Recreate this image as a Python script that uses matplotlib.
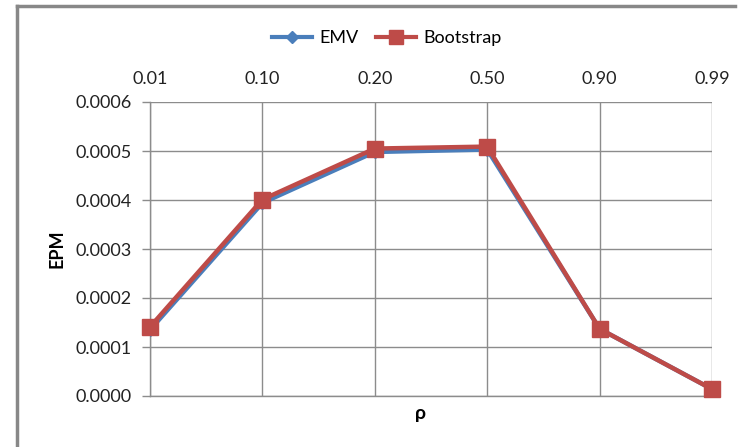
import numpy as np
import matplotlib.pyplot as plt
from matplotlib.lines import Line2D

plt.rcParams['font.family'] = ['Lato', 'DejaVu Sans']

rho_labels = ['0.01', '0.10', '0.20', '0.50', '0.90', '0.99']
emv = [0.000135, 0.000394, 0.000498, 0.000503, 0.000137, 0.000014]
bootstrap = [0.000141, 0.000401, 0.000505, 0.000509, 0.000137, 0.000014]

blue = '#4A7EBB'
red = '#BE4B48'
grid = '#8C8C8C'
fs = 13

fig = plt.figure(figsize=(7.4, 4.47), dpi=100)
ax = fig.add_axes([150/740, 1 - 396/447, 562/740, 294/447])

x = np.arange(len(rho_labels))
ax.plot(x, emv, color=blue, lw=3.2, marker='D', ms=6, mfc=blue, mec=blue,
        label='EMV', zorder=3)
ax.plot(x, bootstrap, color=red, lw=3.2, marker='s', ms=11, mfc=red, mec=red,
        label='Bootstrap', zorder=4, clip_on=False)

ax.set_xlim(0, len(rho_labels) - 1)
ax.set_ylim(0, 0.0006)
ax.set_yticks(np.arange(0, 0.00061, 0.0001))
ax.set_yticklabels([f'{v:.4f}' for v in np.arange(0, 0.00061, 0.0001)])
ax.set_xticks(x)
ax.set_xticklabels(rho_labels)
ax.xaxis.tick_top()
ax.tick_params(axis='x', length=0, pad=11, labelsize=fs, colors='#222222')
ax.tick_params(axis='y', length=6, width=1, color=grid, pad=7,
               labelsize=fs, labelcolor='#222222')
ax.grid(True, color=grid, lw=1)
ax.set_axisbelow(True)
for side in ['top', 'right']:
    ax.spines[side].set_visible(False)
for side in ['left', 'bottom']:
    ax.spines[side].set_color(grid)
    ax.spines[side].set_linewidth(1)

ax.set_ylabel('EPM', fontsize=fs, fontweight='bold', labelpad=7)
fig.text(420/740, 1 - 414/447, 'ρ', fontsize=14, fontweight='bold',
         ha='center', va='center')

handles = [Line2D([], [], color=blue, lw=3, marker='D', ms=6),
           Line2D([], [], color=red, lw=3, marker='s', ms=10)]
fig.legend(handles, ['EMV', 'Bootstrap'], loc='center',
           bbox_to_anchor=(387/740, 1 - 38/447), ncol=2, frameon=False,
           fontsize=fs, handlelength=2.2, columnspacing=1.0,
           handletextpad=0.4)

# outer chart frame (top and left edges)
fig.add_artist(Line2D([17/740, 17/740], [0, 1 - 6/447], color='#888888',
                      lw=2.5, transform=fig.transFigure))
fig.add_artist(Line2D([17/740, 735/740], [1 - 6/447, 1 - 6/447],
                      color='#888888', lw=2.5, transform=fig.transFigure))

fig.savefig('out.png', dpi=100)
